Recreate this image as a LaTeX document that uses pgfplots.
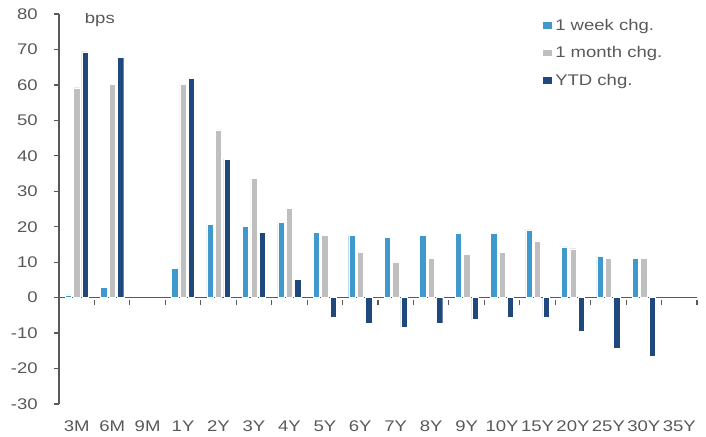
\documentclass[border=0pt]{standalone}
\usepackage{fontspec}
\setmainfont{Liberation Sans}
\usepackage{pgfplots}
\pgfplotsset{compat=1.18}
\definecolor{wk}{HTML}{3F99CC}
\definecolor{mo}{HTML}{BFBFBF}
\definecolor{ytd}{HTML}{1F497D}
\definecolor{txt}{HTML}{595959}
\newcommand{\lblfont}{\fontsize{15.5}{18}\selectfont}
\begin{document}
\begin{tikzpicture}
\begin{axis}[
    scale only axis,
    width=638bp, height=390bp,
    xmin=-0.5, xmax=17.5,
    ymin=-30, ymax=80,
    axis x line*=middle,
    axis y line*=left,
    axis line style={txt, line width=1.4bp},
    every tick/.style={txt, line width=1.2bp},
    major tick length=5bp,
    tick align=outside,
    xtick style={yshift=-2.5bp},
    ytick={-30,-20,...,80},
    xtick={-0.5,0.5,...,17.5},
    xticklabels={},
    extra x ticks={0,1,...,17},
    extra x tick labels={3M,6M,9M,1Y,2Y,3Y,4Y,5Y,6Y,7Y,8Y,9Y,10Y,15Y,20Y,25Y,30Y,35Y},
    extra x tick style={major tick length=0pt,
        tick label style={yshift=-120bp}},
    tick label style={font=\lblfont, text=txt, xscale=1.2},
    yticklabel style={xshift=-10bp},
    /pgf/number format/assume math mode=true,
    ybar=2.1bp,
    bar width=6.3bp,
    legend style={draw=none, fill=none, at={(0.752,0.998)}, anchor=north west,
        font=\lblfont, text=txt, row sep=11bp, nodes={xscale=1.2}},
    legend cell align=left,
    legend image code/.code={\fill[#1] (0bp,-3.5bp) rectangle (10.5bp,4bp);},
]
\addplot[fill=wk, draw=white, line width=0.4bp] coordinates {
    (0,0.8) (1,2.9) (3,8.3) (4,20.7) (5,20.1) (6,21.3) (7,18.4) (8,17.5)
    (9,17.1) (10,17.5) (11,18.1) (12,18.1) (13,19.1) (14,14.3) (15,11.6) (16,11.1)
};
\addplot[fill=mo, draw=white, line width=0.4bp] coordinates {
    (0,59.2) (1,60.2) (3,60.2) (4,47.3) (5,33.7) (6,25.1) (7,17.5) (8,12.7)
    (9,10.1) (10,11.1) (11,12.2) (12,12.7) (13,16.0) (14,13.8) (15,11.1) (16,11.1)
};
\addplot[fill=ytd, draw=white, line width=0.4bp] coordinates {
    (0,69.3) (1,67.8) (3,61.8) (4,39.1) (5,18.5) (6,5.1) (7,-5.6) (8,-7.3)
    (9,-8.4) (10,-7.3) (11,-6.2) (12,-5.6) (13,-5.6) (14,-9.5) (15,-14.3) (16,-16.5)
};
\legend{1 week chg., 1 month chg., YTD chg.}
\node[anchor=west, font=\lblfont, text=txt, xscale=1.2] at (axis description cs:0.034,0.985) {bps};
\end{axis}
\pgfresetboundingbox
\path ([shift={(-59bp,-32bp)}]current axis.south west) rectangle ([shift={(9bp,14bp)}]current axis.north east);
\end{tikzpicture}
\end{document}
